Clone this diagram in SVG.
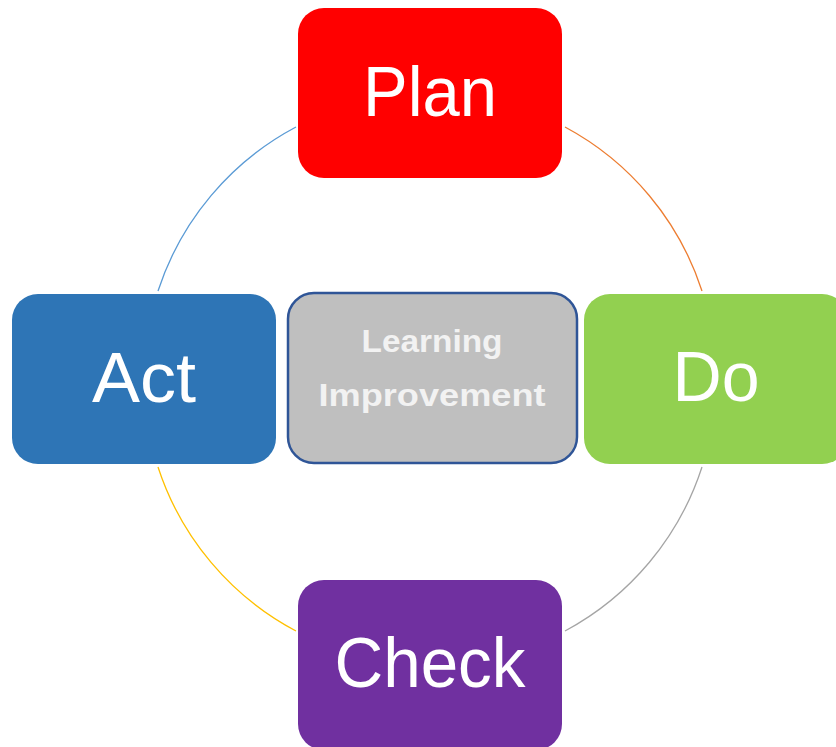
<svg xmlns="http://www.w3.org/2000/svg" width="836" height="747" viewBox="0 0 836 747">
<style>
.arc{fill:none;stroke-width:1.3}
.lbl{font-family:"Liberation Sans",Arial,sans-serif;font-size:70px;fill:#fff;text-anchor:middle}
.c{font-family:"Liberation Sans",Arial,sans-serif;font-size:32px;font-weight:bold;fill:#F2F2F2;text-anchor:middle}
</style>
<rect width="836" height="747" fill="#fff"/>
<g id="connectors">
<path class="arc" stroke="#5B9BD5" d="M296,127 A286,286 0 0 0 158,291"/>
<path class="arc" stroke="#ED7D31" d="M565,127 A286,286 0 0 1 702,291"/>
<path class="arc" stroke="#A5A5A5" d="M702,467 A286,286 0 0 1 565,631"/>
<path class="arc" stroke="#FFC000" d="M158,467 A286,286 0 0 0 296,631"/>
</g>
<g id="plan">
<rect x="298" y="8" width="264" height="170" rx="26" fill="#FF0000"/>
<text class="lbl" x="430" y="116" textLength="134" lengthAdjust="spacingAndGlyphs">Plan</text>
</g>
<g id="act">
<rect x="12" y="294" width="264" height="170" rx="26" fill="#2E75B6"/>
<text class="lbl" x="144" y="402" textLength="104" lengthAdjust="spacingAndGlyphs">Act</text>
</g>
<g id="do">
<rect x="584" y="294" width="264" height="170" rx="26" fill="#92D050"/>
<text class="lbl" x="716" y="401" textLength="87" lengthAdjust="spacingAndGlyphs">Do</text>
</g>
<g id="check">
<rect x="298" y="580" width="264" height="170" rx="26" fill="#7030A0"/>
<text class="lbl" x="430" y="687" textLength="191" lengthAdjust="spacingAndGlyphs">Check</text>
</g>
<g id="center">
<rect x="288" y="293" width="289" height="170" rx="26" fill="#BFBFBF" stroke="#2F5597" stroke-width="2.5"/>
<text class="c" x="432" y="352" textLength="141" lengthAdjust="spacingAndGlyphs">Learning</text>
<text class="c" x="432" y="406" textLength="227" lengthAdjust="spacingAndGlyphs">Improvement</text>
</g>
</svg>
